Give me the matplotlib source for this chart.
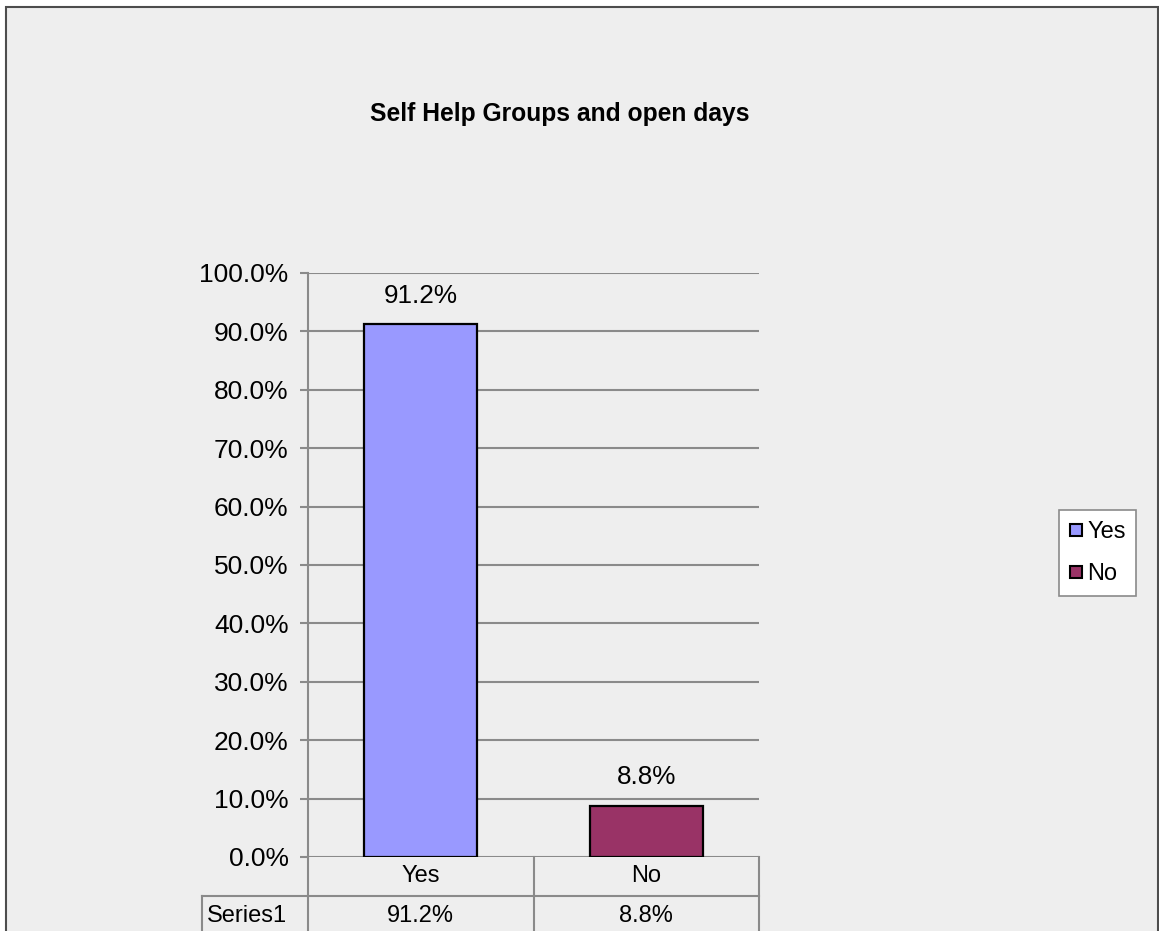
import matplotlib.pyplot as plt
from matplotlib.patches import Rectangle
from matplotlib.lines import Line2D

plt.rcParams['font.family'] = ['Liberation Sans', 'DejaVu Sans']

# data
categories = ["Yes", "No"]
values = [91.2, 8.8]
colors = ["#9999FF", "#993366"]
series_name = "Series1"
title = "Self Help Groups and open days"
yticks = list(range(0, 101, 10))

W, H = 1159, 931
fig = plt.figure(figsize=(W / 100, H / 100), dpi=100)
fig.patch.set_facecolor("white")

# chart area background with border
fig.patches.append(Rectangle((6 / W, -0.02), (1158 - 6) / W, (H - 7) / H + 0.02,
                             transform=fig.transFigure, facecolor="#EEEEEE",
                             edgecolor="#4d4d4d", lw=1.5, zorder=-10))

ax = fig.add_axes([308 / W, (H - 857) / H, (759 - 308) / W, (857 - 273) / H])
ax.set_facecolor("none")

grid_c = "#8a8a8a"
x = range(len(categories))
bars = ax.bar(x, values, width=0.5, color=colors, edgecolor="black", linewidth=1.6, zorder=3)
for b, v in zip(bars, values):
    ax.annotate(f"{v:.1f}%", (b.get_x() + b.get_width() / 2, v), xytext=(0, 12),
                textcoords="offset points", ha="center", va="bottom", fontsize=18.8)

ax.set_xlim(-0.5, len(categories) - 0.5)
ax.set_ylim(0, 100)
ax.set_yticks(yticks)
ax.set_yticklabels([f"{t:.1f}%" for t in yticks], fontsize=19)
ax.yaxis.grid(True, color=grid_c, lw=1.5)
ax.set_axisbelow(True)
ax.tick_params(axis="y", length=6, width=1.5, color=grid_c, pad=8)
ax.tick_params(axis="x", bottom=False, labelbottom=False)
for s in ["top", "right", "bottom"]:
    ax.spines[s].set_visible(False)
ax.spines["left"].set_color(grid_c)
ax.spines["left"].set_linewidth(1.5)

# data table under the axis: x in data units, y in axes fraction
tr = ax.get_xaxis_transform()
rh = 39 / 584
n = len(categories)
lab_left = -0.5 - (308 - 202) / 451 * n
line_kw = dict(color=grid_c, lw=1.5, transform=tr, clip_on=False)
ax.plot([lab_left, n - 0.5], [-rh, -rh], **line_kw)
ax.plot([lab_left, lab_left], [-rh, -3 * rh], **line_kw)
for xb in [i - 0.5 for i in range(n + 1)]:
    ax.plot([xb, xb], [0, -3 * rh], **line_kw)
for i, (cat, v) in enumerate(zip(categories, values)):
    ax.text(i, -0.5 * rh, cat, ha="center", va="center", fontsize=17, transform=tr)
    ax.text(i, -1.5 * rh, f"{v:.1f}%", ha="center", va="center", fontsize=17, transform=tr)
ax.text(lab_left + 0.02, -1.5 * rh, series_name, ha="left", va="center", fontsize=17,
        transform=tr)

fig.text(559.5 / W, (H - 114) / H, title, ha="center", va="center",
         fontsize=17.7, fontweight="bold")

handles = [Line2D([], [], marker="s", linestyle="none", markersize=8.5,
                  markerfacecolor=c, markeredgecolor="black", markeredgewidth=1.5)
           for c in colors]
leg = fig.legend(handles, categories, loc="center",
                 bbox_to_anchor=(1097.5 / W, (H - 553) / H), bbox_transform=fig.transFigure,
                 fontsize=17, frameon=True, fancybox=False, framealpha=1,
                 edgecolor=grid_c, facecolor="white", handlelength=0.6,
                 handletextpad=0.15, labelspacing=0.85, borderpad=0.45, borderaxespad=0)
leg.get_frame().set_linewidth(1.2)

fig.savefig("out.png", dpi=100)
